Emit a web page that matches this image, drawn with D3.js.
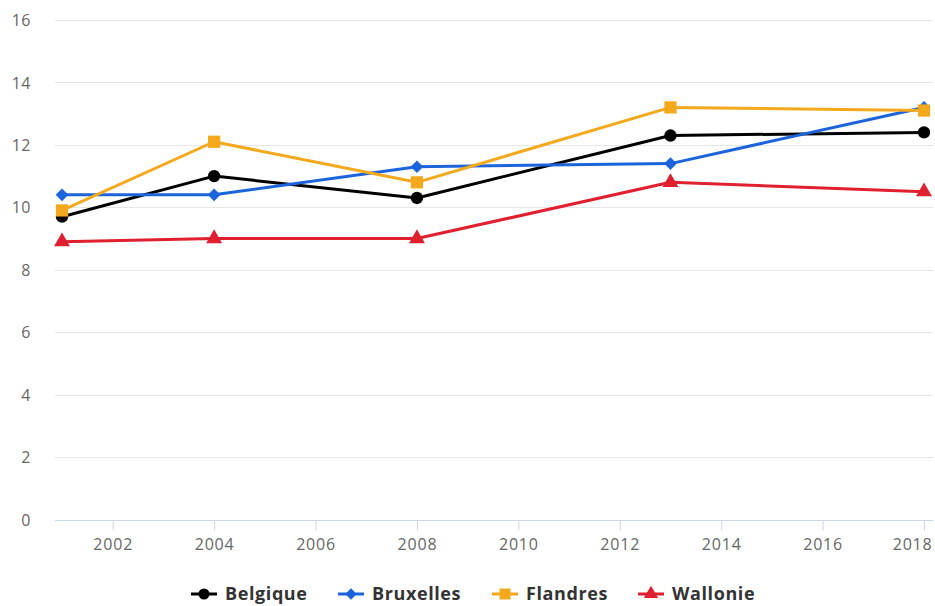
<!DOCTYPE html>
<html>
<head>
<meta charset="utf-8">
<script src="https://cdn.jsdelivr.net/npm/d3@7"></script>
<style>
  html, body { margin: 0; padding: 0; background: #fff; }
  svg { display: block; font-family: "Open Sans", "DejaVu Sans", sans-serif; }
</style>
</head>
<body>
<svg id="chart" width="935" height="606"></svg>
<script>
// Survey years and regional series
const years = [2001, 2004, 2008, 2013, 2018];
const belgique  = [9.7, 11.0, 10.3, 12.3, 12.4];
const bruxelles = [10.4, 10.4, 11.3, 11.4, 13.2];
const flandres  = [9.9, 12.1, 10.8, 13.2, 13.1];
const wallonie  = [8.9, 9.0, 9.0, 10.8, 10.5];
const seriesNames = ["Belgique", "Bruxelles", "Flandres", "Wallonie"];
const xTicks = [2002, 2004, 2006, 2008, 2010, 2012, 2014, 2016, 2018];
const yTicks = [0, 2, 4, 6, 8, 10, 12, 14, 16];

// Square diamond (equal width and height)
const symbolRhomb = {
  draw(ctx, size) {
    const r = Math.sqrt(size / 2);
    ctx.moveTo(0, -r); ctx.lineTo(r, 0); ctx.lineTo(0, r); ctx.lineTo(-r, 0); ctx.closePath();
  }
};

const series = [
  { name: seriesNames[0], values: belgique,  color: "#000000", symbol: d3.symbolCircle,   size: 120 },
  { name: seriesNames[1], values: bruxelles, color: "#1c64dc", symbol: symbolRhomb,       size: 80 },
  { name: seriesNames[2], values: flandres,  color: "#f4a81c", symbol: d3.symbolSquare,   size: 150 },
  { name: seriesNames[3], values: wallonie,  color: "#e01f2f", symbol: d3.symbolTriangle, size: 110 }
];

const svg = d3.select("#chart");
const plotLeft = 55, plotRight = 933;

const x = d3.scaleLinear().domain([2001, 2018]).range([62, 924]);
const y = d3.scaleLinear().domain([0, 16]).range([519.5, 20]);

// Horizontal grid
svg.append("g")
  .selectAll("line")
  .data(yTicks)
  .join("line")
  .attr("x1", plotLeft).attr("x2", plotRight)
  .attr("y1", d => Math.round(y(d)) + 0.5).attr("y2", d => Math.round(y(d)) + 0.5)
  .attr("stroke", d => d === 0 ? "#ccd6eb" : "#e6e6e6")
  .attr("stroke-width", 1);

// Y axis labels
const yAxis = d3.axisLeft(y).tickValues(yTicks).tickSize(0).tickPadding(0);
const gy = svg.append("g").attr("transform", "translate(31,0)").call(yAxis);
gy.select(".domain").remove();
gy.selectAll("text")
  .attr("fill", "#666").attr("font-size", 16)
  .attr("font-family", "\"Open Sans\", sans-serif")
  .attr("letter-spacing", "0.5px")
  .attr("text-anchor", "end")
  .attr("dy", "0.35em");

// X axis ticks and labels
const xAxis = d3.axisBottom(x).tickValues(xTicks).tickFormat(d3.format("d")).tickSize(10).tickPadding(8);
const gx = svg.append("g").attr("transform", `translate(0,${Math.round(y(0)) + 0.5})`).call(xAxis);
gx.select(".domain").remove();
gx.selectAll(".tick line").attr("stroke", "#ccd6eb");
gx.selectAll("text")
  .attr("fill", "#666").attr("font-size", 16)
  .attr("font-family", "\"Open Sans\", sans-serif")
  .attr("letter-spacing", "0.8px")
  .attr("text-anchor", d => d === 2018 ? "end" : "middle")
  .attr("dx", d => d === 2018 ? 8 : 0);

// Lines and markers
const line = d3.line().x((d, i) => x(years[i])).y(d => y(d));
const gSeries = svg.append("g");
series.forEach(s => {
  gSeries.append("path")
    .attr("d", line(s.values))
    .attr("fill", "none")
    .attr("stroke", s.color)
    .attr("stroke-width", 3)
    .attr("stroke-linejoin", "round");
});
series.forEach(s => {
  gSeries.append("g").selectAll("path")
    .data(s.values)
    .join("path")
    .attr("d", d3.symbol().type(s.symbol).size(s.size))
    .attr("transform", (d, i) => `translate(${x(years[i])},${y(d)})`)
    .attr("fill", s.color);
});

// Legend
const legendX = [191, 338, 492, 638];
const legend = svg.append("g").attr("transform", "translate(0,594)");
series.forEach((s, i) => {
  const g = legend.append("g").attr("transform", `translate(${legendX[i]},0)`);
  g.append("line").attr("x1", 0).attr("x2", 26).attr("y1", 0).attr("y2", 0)
    .attr("stroke", s.color).attr("stroke-width", 3);
  g.append("path").attr("d", d3.symbol().type(s.symbol).size(s.size * 0.8)).attr("transform", "translate(13,0)")
    .attr("fill", s.color);
  g.append("text").attr("x", 34).attr("y", 0).attr("dy", "0.36em")
    .attr("font-size", 18).attr("font-weight", "bold").attr("fill", "#333")
    .attr("font-family", "\"Open Sans\", sans-serif")
    .attr("letter-spacing", "0.6px")
    .text(s.name);
});
</script>
</body>
</html>
